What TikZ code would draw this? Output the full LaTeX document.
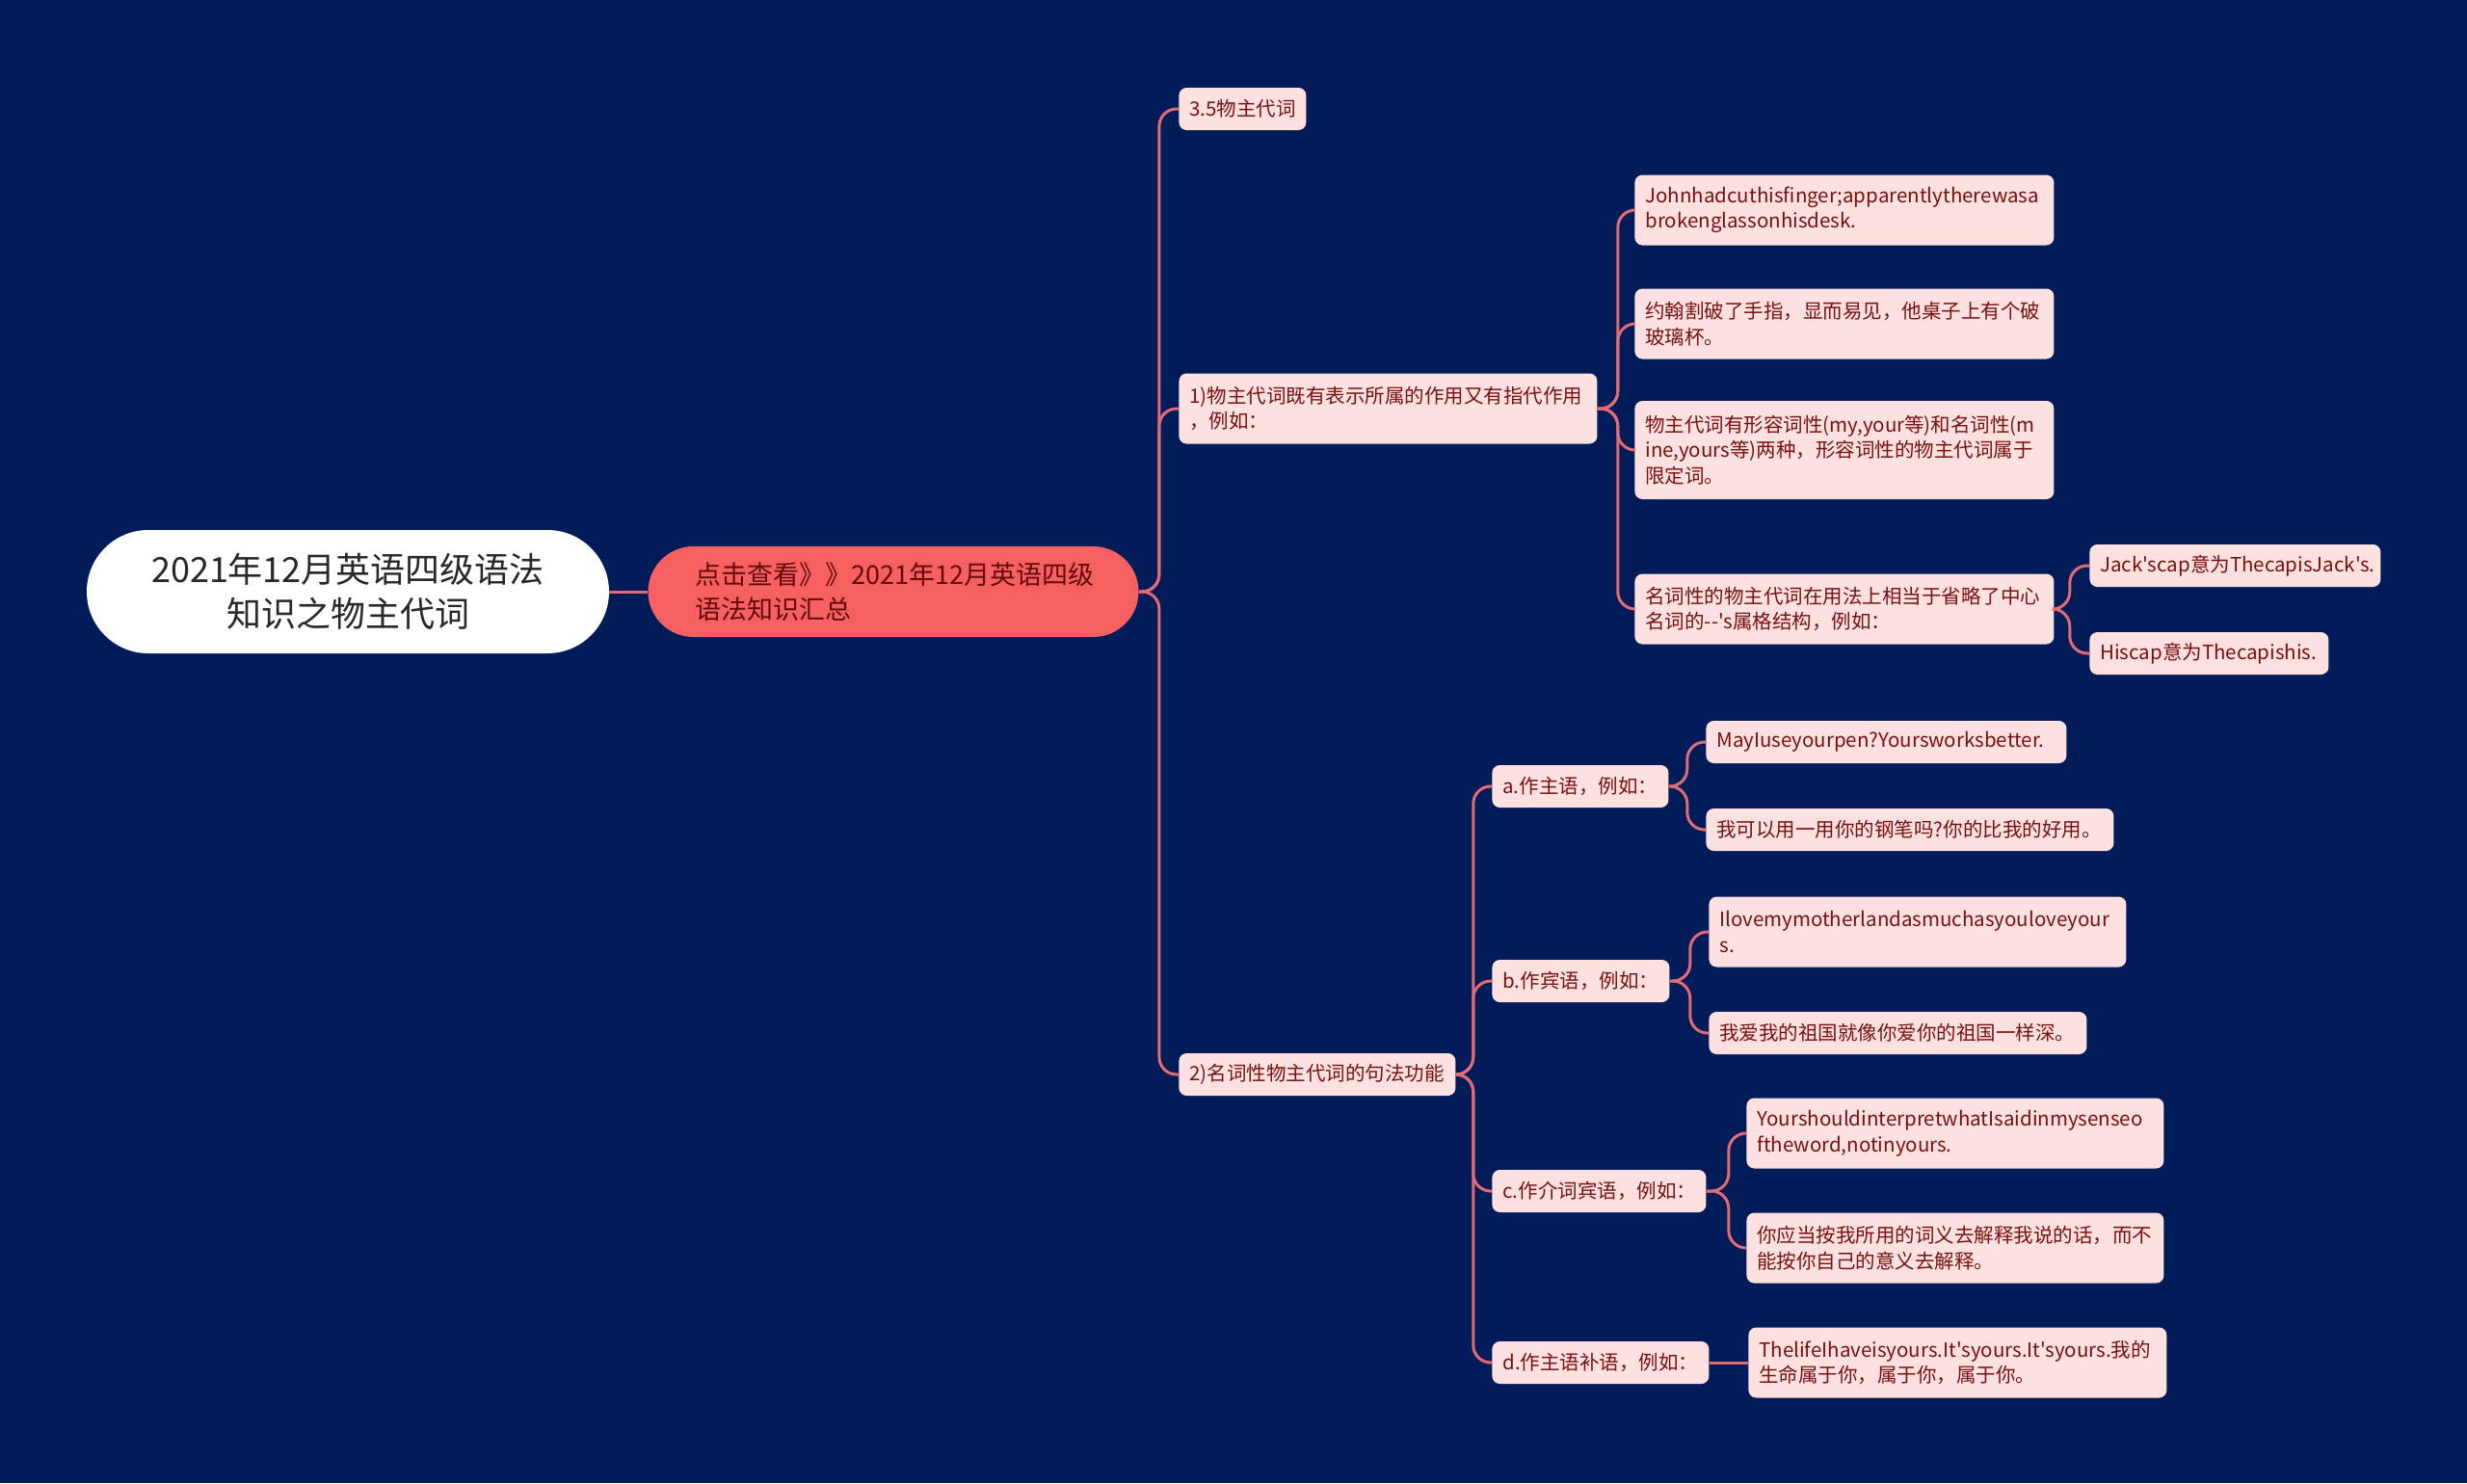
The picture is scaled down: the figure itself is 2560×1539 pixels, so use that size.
\documentclass[tikz,border=0pt]{standalone}
\usepackage{fontspec}
\setmainfont{Noto Sans CJK SC}[Ligatures=TeXOff]
\definecolor{bgC}{RGB}{1,28,88}
\definecolor{lineC}{RGB}{226,107,116}
\definecolor{leafC}{RGB}{253,225,225}
\definecolor{leafT}{RGB}{120,16,16}
\definecolor{mainC}{RGB}{246,96,96}
\definecolor{mainT}{RGB}{100,10,10}
\definecolor{rootT}{RGB}{40,40,40}
\definecolor{shadC}{RGB}{190,196,224}
\begin{document}
\begin{tikzpicture}[x=0.5pt,y=-0.5pt,
  leaf/.style={fill=leafC, text=leafT, rounded corners=4pt, align=left, anchor=west,
    inner xsep=5.5pt, inner ysep=4.5pt, minimum height=22pt,
    font=\fontsize{10.25pt}{13.25pt}\selectfont},
  two/.style={minimum height=36.5pt},
  three/.style={minimum height=51pt},
  mainbox/.style={fill=mainC, text=mainT, rounded corners=23.5pt, align=left,
    inner xsep=24.5pt, text width=205.5pt, minimum height=47pt,
    font=\fontsize{13.5pt}{18pt}\selectfont},
  rootbox/.style={fill=white, text=rootT, rounded corners=32pt, align=center,
    minimum width=271pt, minimum height=64pt,
    font=\fontsize{18pt}{23pt}\selectfont},
  conn/.style={draw=lineC, line width=1.5pt, rounded corners=9pt},
]
\fill[bgC] (0,0) rectangle (2560,1539);
\useasboundingbox (0,0) rectangle (2560,1539);

\node[rootbox] (root) at (361,614) {2021年12月英语四级语法\\知识之物主代词};
\node[mainbox] (l1) at (927,614) {点击查看》》2021年12月英语四级\\语法知识汇总};

\node[leaf, text width=55pt] (n35) at (1223,113) {3.5物主代词};
\node[leaf, two, text width=206pt] (n1) at (1223,424) {1)物主代词既有表示所属的作用又有指代作用\\，例如：};
\node[leaf, text width=132.5pt] (n2) at (1223,1115) {2)名词性物主代词的句法功能};

\node[leaf, two, text width=206.5pt] (j1) at (1696,218) {Johnhadcuthisfinger;apparentlytherewasa\\brokenglassonhisdesk.};
\node[leaf, two, text width=206.5pt] (j2) at (1696,336) {约翰割破了手指，显而易见，他桌子上有个破\\玻璃杯。};
\node[leaf, three, text width=206.5pt] (j3) at (1696,467) {物主代词有形容词性(my,your等)和名词性(m\\ine,yours等)两种，形容词性的物主代词属于\\限定词。};
\node[leaf, two, text width=206.5pt] (j4) at (1696,632) {名词性的物主代词在用法上相当于省略了中心\\名词的--'s属格结构，例如：};

\node[leaf, text width=140pt] (k1) at (2168,587) {Jack'scap意为ThecapisJack's.};
\node[leaf, text width=113pt] (k2) at (2168,678) {Hiscap意为Thecapishis.};

\node[leaf, text width=80.5pt] (a) at (1548,816) {a.作主语，例如：};
\node[leaf, text width=81pt] (b) at (1548,1018) {b.作宾语，例如：};
\node[leaf, text width=100pt] (c) at (1548,1236) {c.作介词宾语，例如：};
\node[leaf, text width=101.5pt] (d) at (1548,1414) {d.作主语补语，例如：};

\node[leaf, text width=176pt] (a1) at (1770,770) {MayIuseyourpen?Yoursworksbetter.};
\node[leaf, text width=200.5pt] (a2) at (1770,861) {我可以用一用你的钢笔吗?你的比我的好用。};
\node[leaf, two, text width=205.5pt] (b1) at (1773,967) {Ilovemymotherlandasmuchasyouloveyour\\s.};
\node[leaf, text width=185pt] (b2) at (1773,1072) {我爱我的祖国就像你爱你的祖国一样深。};
\node[leaf, two, text width=205.5pt] (c1) at (1812,1176) {YourshouldinterpretwhatIsaidinmysenseo\\ftheword,notinyours.};
\node[leaf, two, text width=205.5pt] (c2) at (1812,1295) {你应当按我所用的词义去解释我说的话，而不\\能按你自己的意义去解释。};
\node[leaf, two, text width=206pt] (d1) at (1814,1414) {ThelifeIhaveisyours.It'syours.It'syours.我的\\生命属于你，属于你，属于你。};

% spines
\coordinate (s0) at ([xshift=10.5pt]l1.east);
\coordinate (s1) at ([xshift=10.5pt]n1.east);
\coordinate (s2) at ([xshift=9pt]n2.east);
\coordinate (s4) at ([xshift=8pt]j4.east);
\coordinate (sa) at ([xshift=9.5pt]a.east);
\coordinate (sb) at ([xshift=10.5pt]b.east);
\coordinate (sc) at ([xshift=11.5pt]c.east);

\draw[lineC, line width=1.5pt] (root.east) -- (l1.west);
\foreach \ch in {n35,n1,n2} \draw[conn] (l1.east) -- (s0) -- (s0 |- \ch.west) -- (\ch.west);
\foreach \ch in {j1,j2,j3,j4} \draw[conn] (n1.east) -- (s1) -- (s1 |- \ch.west) -- (\ch.west);
\foreach \ch in {k1,k2} \draw[conn] (j4.east) -- (s4) -- (s4 |- \ch.west) -- (\ch.west);
\foreach \ch in {a,b,c,d} \draw[conn] (n2.east) -- (s2) -- (s2 |- \ch.west) -- (\ch.west);
\foreach \ch in {a1,a2} \draw[conn] (a.east) -- (sa) -- (sa |- \ch.west) -- (\ch.west);
\foreach \ch in {b1,b2} \draw[conn] (b.east) -- (sb) -- (sb |- \ch.west) -- (\ch.west);
\foreach \ch in {c1,c2} \draw[conn] (c.east) -- (sc) -- (sc |- \ch.west) -- (\ch.west);
\draw[lineC, line width=1.5pt] (d.east) -- (d1.west);
\end{tikzpicture}
\end{document}
